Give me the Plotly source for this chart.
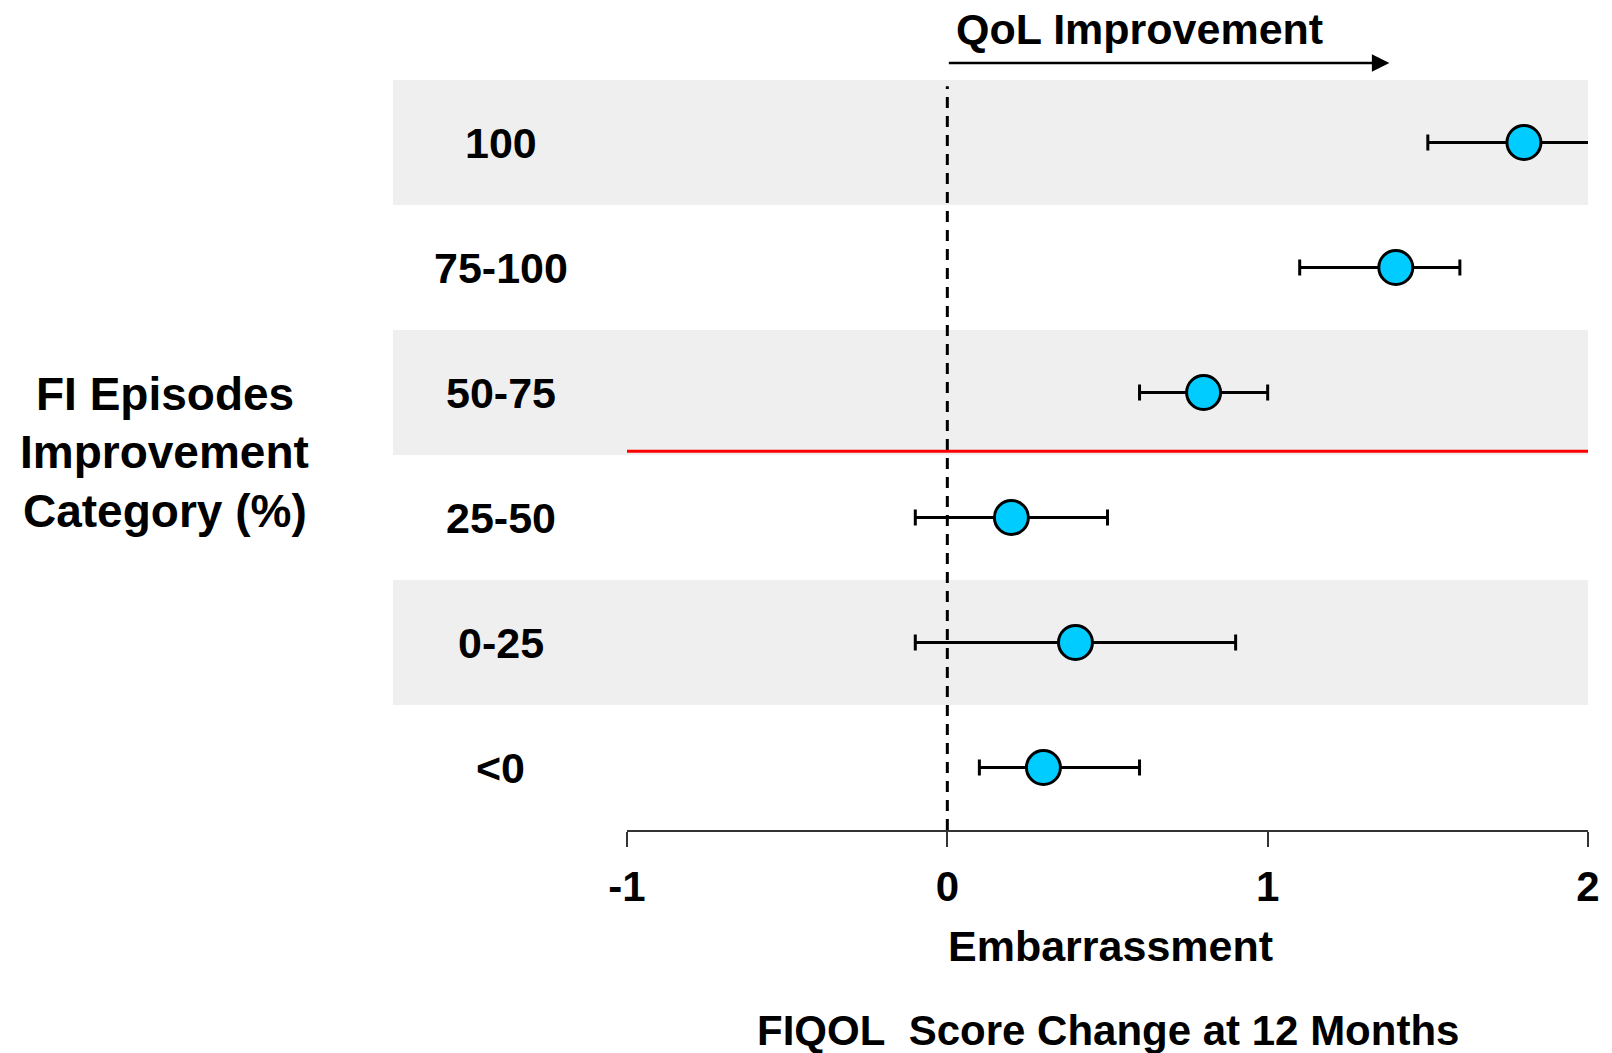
import plotly.graph_objects as go

categories = ["100", "75-100", "50-75", "25-50", "0-25", "<0"]
row_pos = [5, 4, 3, 2, 1, 0]
means = [1.8, 1.4, 0.8, 0.2, 0.4, 0.3]
lower = [1.5, 1.1, 0.6, -0.1, -0.1, 0.1]
upper = [2.1, 1.6, 1.0, 0.5, 0.9, 0.6]
shaded_rows = [5, 3, 1]
x_ticks = [-1, 0, 1, 2]

FONT = "Arial, Liberation Sans, sans-serif"

def f(size):
    return dict(family=FONT, size=size, color="black", weight="bold")

err_plus = [u - m for u, m in zip(upper, means)]
err_minus = [m - l for m, l in zip(means, lower)]

fig = go.Figure()
fig.add_trace(go.Scatter(
    x=means, y=row_pos, mode="markers",
    marker=dict(size=34, color="#00CCFF", line=dict(color="black", width=3)),
    error_x=dict(type="data", array=err_plus, arrayminus=err_minus,
                 color="black", thickness=3, width=8),
    showlegend=False, hoverinfo="skip",
))

shapes = []
for r in shaded_rows:
    shapes.append(dict(type="rect", xref="paper", yref="y",
                       x0=-0.2435, x1=1.0, y0=r - 0.5, y1=r + 0.5,
                       fillcolor="#EFEFEF", line=dict(width=0), layer="below"))
shapes.append(dict(type="line", xref="x", yref="y", x0=0, x1=0, y0=-0.5, y1=5.45,
                   line=dict(color="black", width=3, dash="11px,8px"), layer="below"))
shapes.append(dict(type="line", xref="x", yref="y", x0=-1, x1=2, y0=2.53, y1=2.53,
                   line=dict(color="#FF0000", width=3), layer="below"))

annotations = []
for c, r in zip(categories, row_pos):
    annotations.append(dict(text=c, xref="paper", yref="y", x=-0.1313, y=r,
                            xanchor="center", yanchor="middle", showarrow=False,
                            font=f(43)))
for txt, yp in [("FI Episodes", 0.5813), ("Improvement", 0.504), ("Category (%)", 0.4253)]:
    annotations.append(dict(text=txt, xref="paper", yref="paper", x=-0.481, y=yp,
                            xanchor="center", yanchor="middle", showarrow=False,
                            font=f(46)))
annotations.append(dict(text="Embarrassment", xref="paper", yref="paper", x=0.503, y=-0.1547,
                        xanchor="center", yanchor="middle", showarrow=False,
                        font=f(43)))
annotations.append(dict(text="FIQOL\u00a0 Score Change at 12 Months", xref="paper", yref="paper",
                        x=0.5, y=-0.2667, xanchor="center", yanchor="middle", showarrow=False,
                        font=f(42)))
annotations.append(dict(text="QoL Improvement", xref="x", yref="paper", x=0.60, y=1.068,
                        xanchor="center", yanchor="middle", showarrow=False,
                        font=f(43)))
annotations.append(dict(text="", xref="x", yref="paper", x=1.38, y=1.0227,
                        axref="x", ax=0, ayref="pixel", ay=0, showarrow=True,
                        arrowhead=2, arrowsize=1.4, arrowwidth=2.5, arrowcolor="black"))

fig.update_layout(
    width=1612, height=1053,
    margin=dict(l=627, r=18, t=80, b=223),
    plot_bgcolor="white", paper_bgcolor="white",
    shapes=shapes, annotations=annotations,
    xaxis=dict(range=[-1, 2], tickvals=x_ticks, ticktext=[str(v) for v in x_ticks],
               showgrid=False, zeroline=False, showline=True, linecolor="#333333",
               linewidth=2, ticks="outside", ticklen=15, tickwidth=2, tickcolor="#333333",
               tickfont=f(42), ticklabelstandoff=4),
    yaxis=dict(range=[-0.5, 5.5], visible=False, showgrid=False, zeroline=False),
)

fig.write_html("out.html")
